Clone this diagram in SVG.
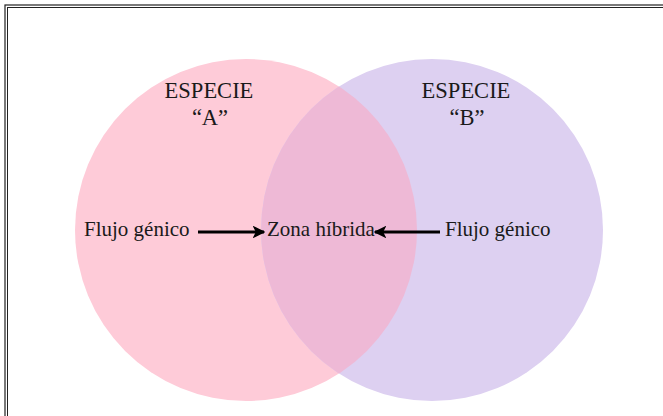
<svg xmlns="http://www.w3.org/2000/svg" width="663" height="416" viewBox="0 0 663 416">
<defs>
<style>
.t{font-family:"Liberation Serif","Times New Roman",serif;font-size:21px;fill:#1a1a1a}
.h{font-family:"Liberation Serif","Times New Roman",serif;font-size:22.5px;fill:#1a1a1a;text-anchor:middle}
.c{stroke:#000;stroke-width:3;fill:none}
</style>
<clipPath id="clipA"><circle cx="246" cy="230" r="171"/></clipPath>
<marker id="ah" viewBox="0 0 10 10" refX="9" refY="5" markerWidth="4.2" markerHeight="4.2" orient="auto" markerUnits="strokeWidth">
<path d="M0,0 L10,5 L0,10 L2.5,5 Z" fill="#000"/>
</marker>
</defs>
<rect x="0" y="0" width="663" height="416" fill="#fff"/>
<rect x="5" y="5" width="700" height="450" fill="none" stroke="#222" stroke-width="1.2"/>
<rect x="7.5" y="7.5" width="700" height="450" fill="none" stroke="#222" stroke-width="1"/>
<g id="especieA">
<circle cx="246" cy="230" r="171" fill="#FECBD8"/>
<text class="h" x="209" y="98">ESPECIE</text>
<text class="h" x="210" y="125">“A”</text>
</g>
<g id="especieB">
<circle cx="432" cy="230" r="171" fill="#DDD0F1"/>
<text class="h" x="466" y="98">ESPECIE</text>
<text class="h" x="467" y="125">“B”</text>
</g>
<g id="zona">
<circle cx="432" cy="230" r="171" fill="#EEB9D6" clip-path="url(#clipA)"/>
<text class="t" x="321" y="236" text-anchor="middle">Zona híbrida</text>
</g>
<g id="flujoA"><text class="t" x="84" y="236">Flujo génico</text></g>
<g id="flujoB"><text class="t" x="445" y="236">Flujo génico</text></g>
<g id="connectors">
<line class="c" x1="198" y1="232" x2="264" y2="232" marker-end="url(#ah)"/>
<line class="c" x1="440" y1="232" x2="375" y2="232" marker-end="url(#ah)"/>
</g>
</svg>
